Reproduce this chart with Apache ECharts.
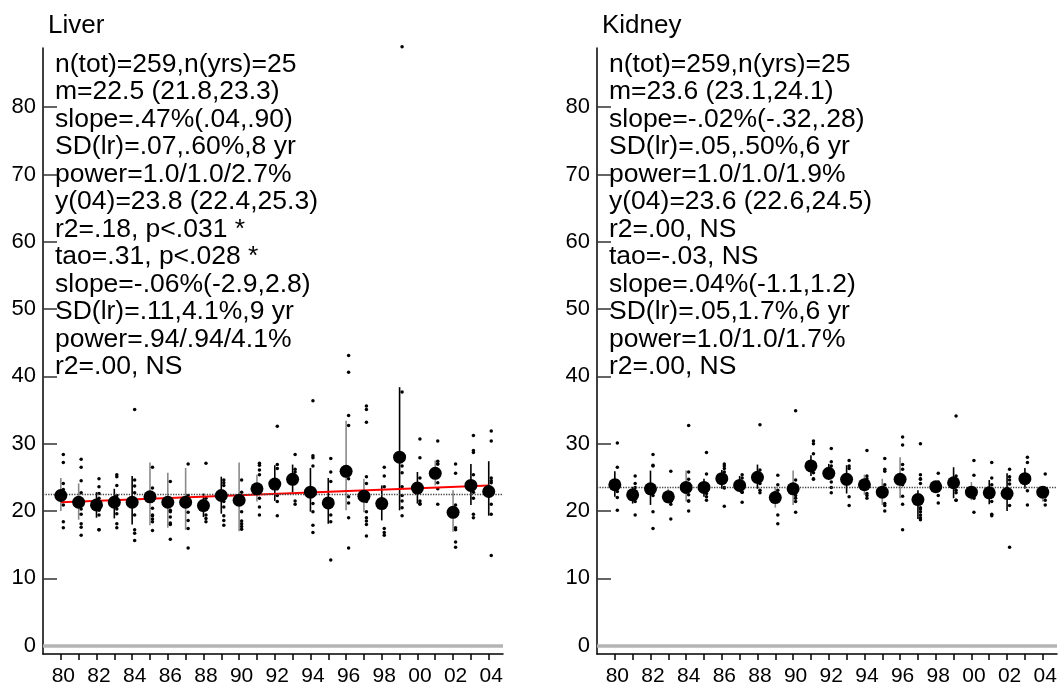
<!DOCTYPE html>
<html>
<head>
<meta charset="utf-8">
<title>Liver / Kidney</title>
<script src="https://cdn.jsdelivr.net/npm/echarts@6.0.0/dist/echarts.min.js"></script>
<style>
  html, body { margin: 0; padding: 0; background: #fff; }
  #chart { width: 1064px; height: 687px; }
</style>
</head>
<body>
<div id="chart"></div>
<script>
// years and tick values
var years = [1980, 1981, 1982, 1983, 1984, 1985, 1986, 1987, 1988, 1989, 1990, 1991, 1992,
  1993, 1994, 1995, 1996, 1997, 1998, 1999, 2000, 2001, 2002, 2003, 2004];
var yearLabels = [1980, 1982, 1984, 1986, 1988, 1990, 1992, 1994, 1996, 1998, 2000, 2002, 2004];
var yTicks = [0, 10, 20, 30, 40, 50, 60, 70, 80];

// Liver
var liverMean = [22.3, 21.3, 20.9, 21.3, 21.3, 22.1, 21.3, 21.3, 20.8, 22.3, 21.6, 23.3, 24.0,
  24.7, 22.8, 21.2, 25.9, 22.2, 21.1, 28.0, 23.4, 25.6, 19.8, 23.8, 22.9];
var liverLow = [20.0, 18.7, 19.0, 18.9, 18.0, 17.9, 17.5, 17.2, 19.1, 19.6, 17.0, 21.4, 21.5,
  22.8, 19.9, 18.1, 20.1, 19.8, 18.6, 20.1, 21.1, 23.8, 16.9, 20.9, 19.3];
var liverHigh = [24.9, 24.1, 22.8, 23.3, 25.2, 27.2, 25.7, 26.4, 22.6, 25.1, 27.2, 25.4, 26.8,
  26.9, 26.4, 24.9, 33.4, 24.8, 23.8, 38.4, 25.8, 27.5, 23.1, 27.0, 27.4];
var liverPoints = [
  [28.4, 27.2, 24.1, 23.2, 22.5, 21.8, 20.9, 18.4, 17.5],
  [27.7, 26.5, 24.5, 22.7, 21.5, 20.3, 19.5, 18.1, 17.6, 16.4],
  [24.8, 23.6, 22.6, 21.9, 21.2, 20.1, 19.4, 17.2, 17.2],
  [25.4, 25.1, 23.8, 22.3, 21.3, 21.0, 20.3, 19.6, 18.1, 17.5],
  [35.1, 24.6, 23.7, 22.7, 21.8, 19.4, 17.2, 16.7, 15.6],
  [26.5, 23.4, 22.0, 20.4, 19.4, 19.3, 18.8, 18.4, 17.1],
  [24.4, 21.5, 20.1, 19.9, 19.1, 18.2, 18.0, 15.8],
  [27.0, 22.3, 21.0, 19.8, 18.6, 17.4, 14.5],
  [27.1, 21.9, 20.8, 19.4, 18.9, 18.4],
  [24.6, 24.2, 23.8, 22.3, 21.4, 20.6, 19.3, 18.6, 17.9],
  [24.6, 22.8, 21.4, 19.9, 18.5, 18.1, 17.7, 17.3],
  [27.1, 26.8, 26.1, 25.4, 23.3, 21.9, 20.6, 19.4],
  [32.6, 26.9, 26.3, 24.0, 23.3, 22.3, 21.4, 19.3],
  [28.4, 26.2, 25.8, 24.7, 21.5, 21.0],
  [36.4, 28.2, 27.9, 26.7, 22.8, 21.1, 19.9, 17.9, 16.8],
  [27.8, 25.8, 24.4, 21.2, 19.4, 18.4, 12.7],
  [43.1, 40.6, 34.2, 32.7, 24.8, 22.1, 21.2, 19.0, 14.5],
  [35.6, 35.1, 33.2, 25.1, 24.1, 22.2, 21.4, 19.9, 19.0, 18.5, 18.0, 16.3],
  [26.5, 25.2, 23.6, 21.1, 17.4, 16.8, 16.4],
  [89.0, 37.7, 26.7, 25.7, 23.6, 22.3, 21.5, 20.5, 19.3],
  [30.7, 27.9, 24.9, 23.4, 21.5, 21.1, 21.0],
  [30.4, 27.4, 27.0, 27.0, 24.2, 23.3, 21.0],
  [27.0, 25.6, 20.9, 19.5, 17.5, 17.2, 15.4, 14.6],
  [31.2, 29.0, 28.7, 25.4, 23.8, 22.8, 21.9, 19.5, 19.0],
  [31.9, 30.4, 24.9, 24.5, 24.2, 22.9, 21.0, 19.5, 13.4]
];
var liverGrayYears = [1980, 1981, 1985, 1986, 1987, 1990, 1991, 1996, 1997, 2001, 2002];
var liverOverall = 22.5;
var liverTrendYears = [1980, 2004];
var liverTrend = [21.3, 23.8];
var liverStats = [
  'n(tot)=259,n(yrs)=25',
  'm=22.5 (21.8,23.3)',
  'slope=.47%(.04,.90)',
  'SD(lr)=.07,.60%,8 yr',
  'power=1.0/1.0/2.7%',
  'y(04)=23.8 (22.4,25.3)',
  'r2=.18, p<.031 *',
  'tao=.31, p<.028 *',
  'slope=-.06%(-2.9,2.8)',
  'SD(lr)=.11,4.1%,9 yr',
  'power=.94/.94/4.1%',
  'r2=.00, NS'
];

// Kidney
var kidneyMean = [23.9, 22.4, 23.3, 22.1, 23.5, 23.5, 24.8, 23.8, 25.0, 22.0, 23.3, 26.7, 25.6,
  24.7, 23.9, 22.8, 24.7, 21.7, 23.6, 24.2, 22.8, 22.7, 22.6, 24.8, 22.8];
var kidneyLow = [22.1, 21.1, 20.9, 21.1, 21.4, 22.1, 23.3, 22.8, 23.3, 20.5, 20.9, 25.2, 24.6,
  22.6, 22.4, 20.9, 21.9, 18.8, 22.8, 21.9, 21.6, 21.0, 20.0, 23.3, 21.4];
var kidneyHigh = [25.9, 23.6, 26.0, 23.3, 26.0, 24.8, 26.1, 25.2, 26.9, 23.6, 26.0, 28.3, 27.0,
  26.8, 25.4, 24.8, 28.0, 23.1, 24.2, 26.5, 24.3, 24.6, 25.6, 26.4, 23.7];
var kidneyPoints = [
  [30.1, 26.5, 24.5, 22.9, 22.0, 20.1],
  [25.2, 24.1, 23.5, 22.4, 21.4, 19.4],
  [28.4, 26.8, 26.7, 23.3, 22.3, 19.9, 17.4],
  [25.9, 22.7, 22.1, 21.4, 21.0, 18.8],
  [32.7, 25.8, 24.7, 23.3, 22.4, 21.5, 21.5, 20.0],
  [28.7, 25.5, 23.5, 22.6, 22.1, 21.6],
  [27.0, 26.7, 26.3, 25.8, 24.8, 23.5, 23.4, 20.7],
  [25.4, 24.9, 23.8, 22.8, 22.8, 21.3],
  [32.8, 26.1, 25.0, 24.1, 23.1, 22.7],
  [25.3, 23.9, 23.1, 22.0, 19.4, 18.1],
  [34.9, 24.6, 23.3, 22.3, 21.9, 21.4, 19.8],
  [30.4, 30.0, 28.5, 26.7, 25.7, 24.8, 24.7],
  [29.3, 27.3, 26.7, 25.6, 24.3, 23.5, 22.7],
  [27.5, 26.7, 26.3, 25.1, 24.7, 22.1, 20.8],
  [29.0, 25.2, 24.8, 23.9, 22.6, 22.3, 21.9],
  [27.8, 26.2, 25.9, 23.9, 22.8, 21.1, 20.8, 20.0],
  [31.0, 29.8, 26.9, 26.2, 24.7, 23.9, 22.2, 21.0, 17.2],
  [30.0, 25.4, 24.8, 24.7, 24.1, 21.7, 21.1, 20.5, 20.3, 19.9, 19.4, 19.0, 18.7],
  [25.6, 24.3, 23.6, 23.6, 22.3, 21.2],
  [34.1, 25.2, 24.2, 23.1, 22.7, 21.6, 21.6],
  [27.5, 25.3, 22.8, 22.3, 22.1, 21.9, 19.8],
  [27.2, 24.9, 23.9, 22.7, 21.4, 19.5, 19.3],
  [26.2, 25.1, 24.6, 24.0, 22.6, 21.9, 20.8, 14.6],
  [28.0, 27.2, 24.8, 23.0, 20.9],
  [25.5, 23.3, 22.8, 22.3, 22.1, 21.6, 20.9]
];
var kidneyGrayYears = [1983, 1984, 1989, 1990, 1994, 1995, 1996, 1998, 2000, 2004];
var kidneyOverall = 23.6;
var kidneyStats = [
  'n(tot)=259,n(yrs)=25',
  'm=23.6 (23.1,24.1)',
  'slope=-.02%(-.32,.28)',
  'SD(lr)=.05,.50%,6 yr',
  'power=1.0/1.0/1.9%',
  'y(04)=23.6 (22.6,24.5)',
  'r2=.00, NS',
  'tao=-.03, NS',
  'slope=.04%(-1.1,1.2)',
  'SD(lr)=.05,1.7%,6 yr',
  'power=1.0/1.0/1.7%',
  'r2=.00, NS'
];

var font = '"Liberation Sans", Arial, Helvetica, sans-serif';
var panelLeft = [43, 597];

function xAxisFor(i) {
  return {
    type: 'value', gridIndex: i, min: 1979, max: 2004.8,
    splitLine: { show: false },
    axisLine: { onZero: false, lineStyle: { color: '#000', width: 1.5 } },
    axisTick: { customValues: years, length: 6, lineStyle: { color: '#000', width: 1.5 } },
    axisLabel: {
      customValues: yearLabels, margin: 12, fontSize: 21, fontFamily: font, color: '#000',
      padding: [0, 0, 0, 5],
      formatter: function (v) { return String(v % 100).padStart(2, '0'); }
    }
  };
}

function yAxisFor(i) {
  return {
    type: 'value', gridIndex: i, min: -1.25, max: 88.8,
    splitLine: { show: false },
    axisLine: { onZero: false, lineStyle: { color: '#000', width: 1.5 } },
    axisTick: { inside: true, length: 14, customValues: yTicks, lineStyle: { color: '#333', width: 1.5 } },
    axisLabel: { customValues: yTicks, margin: 7, fontSize: 22, fontFamily: font, color: '#000' }
  };
}

function panelSeries(i, mean, low, high, points, grayYears, overall) {
  var ranges = years.map(function (y, k) { return [y, low[k], high[k]]; });
  var dots = [];
  points.forEach(function (list, k) {
    list.forEach(function (v) { dots.push([years[k], v]); });
  });
  var big = years.map(function (y, k) { return [y, mean[k]]; });
  return [
    {
      type: 'custom', xAxisIndex: i, yAxisIndex: i, z: 2,
      data: ranges,
      encode: { x: 0, y: [1, 2] },
      renderItem: function (params, api) {
        var yr = api.value(0);
        var a = api.coord([yr, api.value(1)]);
        var b = api.coord([yr, api.value(2)]);
        return {
          type: 'line',
          shape: { x1: a[0], y1: a[1], x2: b[0], y2: b[1] },
          style: { stroke: grayYears.indexOf(yr) >= 0 ? '#8a8a8a' : '#000', lineWidth: 1.6 }
        };
      }
    },
    {
      type: 'scatter', xAxisIndex: i, yAxisIndex: i, z: 3, clip: false,
      data: dots, symbol: 'circle', symbolSize: 3.5, symbolOffset: [2.5, 0],
      itemStyle: { color: '#000', opacity: 1 },
      markLine: {
        silent: true, symbol: 'none', label: { show: false }, animation: false,
        data: [
          { yAxis: overall, lineStyle: { type: 'dotted', color: '#444', width: 1.3 } },
          { yAxis: 0, lineStyle: { type: 'solid', color: '#b4b4b4', width: 3.5 } }
        ]
      }
    },
    {
      type: 'scatter', xAxisIndex: i, yAxisIndex: i, z: 5,
      data: big, symbol: 'circle', symbolSize: 13,
      itemStyle: { color: '#000', opacity: 1 }
    }
  ];
}

function textBlocks(i, title, stats) {
  var x0 = panelLeft[i];
  return [
    { type: 'text', x: x0 + 5, y: 26, style: { text: title, fontSize: 26, fontFamily: font, fill: '#000', verticalAlign: 'middle' } },
    { type: 'text', x: x0 + 12, y: 50.5, style: { text: stats.join('\n'), fontSize: 26.5, lineHeight: 27.5, fontFamily: font, fill: '#000', verticalAlign: 'top' } }
  ];
}

var series = panelSeries(0, liverMean, liverLow, liverHigh, liverPoints, liverGrayYears, liverOverall)
  .concat(panelSeries(1, kidneyMean, kidneyLow, kidneyHigh, kidneyPoints, kidneyGrayYears, kidneyOverall));

// regression line for liver
series.push({
  type: 'line', xAxisIndex: 0, yAxisIndex: 0, z: 4,
  data: liverTrendYears.map(function (y, k) { return [y, liverTrend[k]]; }),
  symbol: 'none', lineStyle: { color: '#ff0000', width: 2 }
});

var option = {
  animation: false,
  backgroundColor: '#fff',
  grid: [
    { left: panelLeft[0], top: 48, width: 460, height: 608 },
    { left: panelLeft[1], top: 48, width: 460, height: 608 }
  ],
  xAxis: [xAxisFor(0), xAxisFor(1)],
  yAxis: [yAxisFor(0), yAxisFor(1)],
  graphic: textBlocks(0, 'Liver', liverStats).concat(textBlocks(1, 'Kidney', kidneyStats)),
  series: series
};

var myChart = echarts.init(document.getElementById('chart'));
myChart.setOption(option);
</script>
</body>
</html>
